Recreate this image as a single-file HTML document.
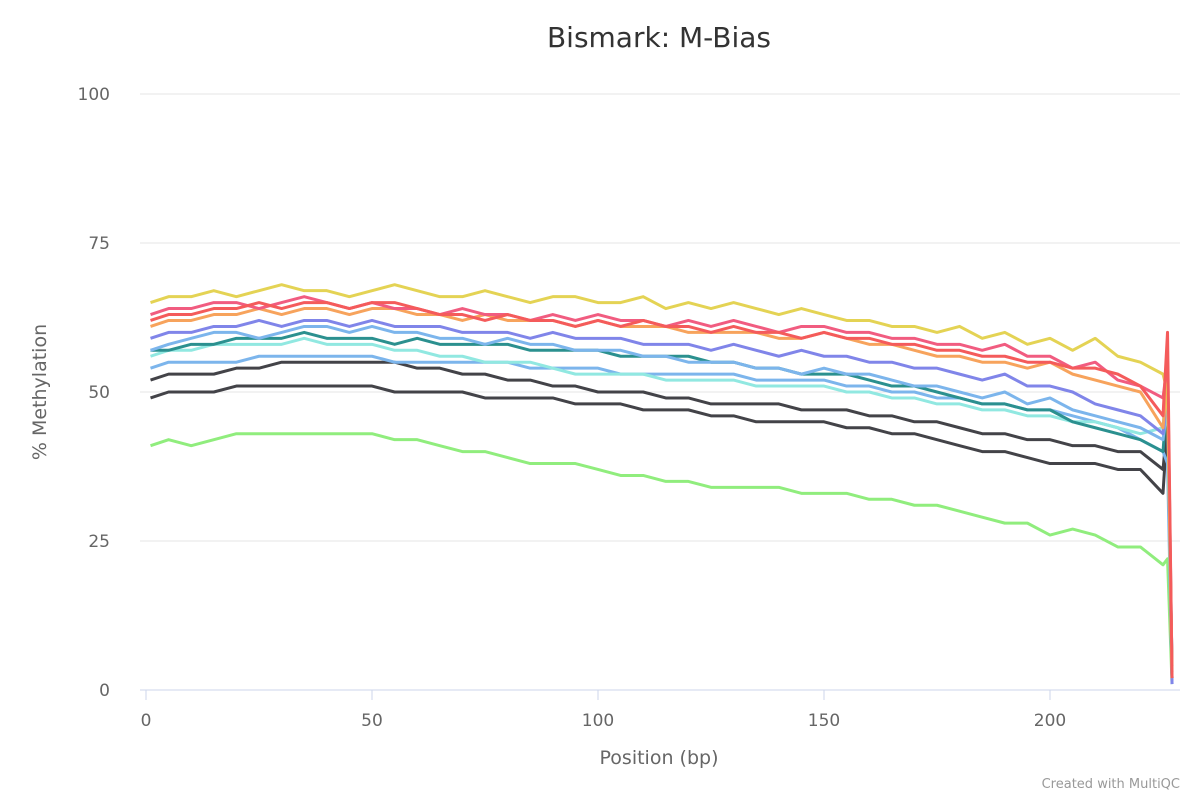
<!DOCTYPE html>
<html><head><meta charset="utf-8"><style>
body{margin:0;background:#fff;font-family:"Liberation Sans",sans-serif}
svg text{font-family:"DejaVu Sans","Liberation Sans",sans-serif}
</style></head><body>
<svg id="chart" width="1200" height="800">
<text x="659" y="47" text-anchor="middle" font-size="28" fill="#333">Bismark: M-Bias</text>
<g id="grid"></g>
<g id="series"></g>
<text transform="translate(46,392) rotate(-90)" text-anchor="middle" font-size="19" fill="#666">% Methylation</text>
<text x="659" y="764" text-anchor="middle" font-size="19" fill="#666">Position (bp)</text>
<text x="1180" y="788" text-anchor="end" font-size="13" fill="#999">Created with MultiQC</text>
</svg>
<script>
const positions=[1,5,10,15,20,25,30,35,40,45,50,55,60,65,70,75,80,85,90,95,100,105,110,115,120,125,130,135,140,145,150,155,160,165,170,175,180,185,190,195,200,205,210,215,220,225,226,227];
const yTicks=[0,25,50,75,100];
const xTicks=[0,50,100,150,200];
const sYellow=[65,66,66,67,66,67,68,67,67,66,67,68,67,66,66,67,66,65,66,66,65,65,66,64,65,64,65,64,63,64,63,62,62,61,61,60,61,59,60,58,59,57,59,56,55,53,50,2];
const sPink=[63,64,64,65,65,64,65,66,65,64,65,64,64,63,64,63,63,62,63,62,63,62,62,61,62,61,62,61,60,61,61,60,60,59,59,58,58,57,58,56,56,54,55,52,51,49,55,3];
const sRed=[62,63,63,64,64,65,64,65,65,64,65,65,64,63,63,62,63,62,62,61,62,61,62,61,61,60,61,60,60,59,60,59,59,58,58,57,57,56,56,55,55,54,54,53,51,46,60,2];
const sOrange=[61,62,62,63,63,64,63,64,64,63,64,64,63,63,62,63,62,62,62,61,62,61,61,61,60,60,60,60,59,59,60,59,58,58,57,56,56,55,55,54,55,53,52,51,50,44,52,2];
const sPurple=[59,60,60,61,61,62,61,62,62,61,62,61,61,61,60,60,60,59,60,59,59,59,58,58,58,57,58,57,56,57,56,56,55,55,54,54,53,52,53,51,51,50,48,47,46,43,50,1];
const sBlue=[57,58,59,60,60,59,60,61,61,60,61,60,60,59,59,58,59,58,58,57,57,57,56,56,55,55,55,54,54,53,54,53,53,52,51,51,50,49,50,48,49,47,46,45,44,42,48,1];
const sTeal=[57,57,58,58,59,59,59,60,59,59,59,58,59,58,58,58,58,57,57,57,57,56,56,56,56,55,55,54,54,53,53,53,52,51,51,50,49,48,48,47,47,45,44,43,42,40,50,2];
const sCyan=[56,57,57,58,58,58,58,59,58,58,58,57,57,56,56,55,55,55,54,53,53,53,53,52,52,52,52,51,51,51,51,50,50,49,49,48,48,47,47,46,46,45,45,44,43,44,55,3];
const sLightBlue=[54,55,55,55,55,56,56,56,56,56,56,55,55,55,55,55,55,54,54,54,54,53,53,53,53,53,53,52,52,52,52,51,51,50,50,49,49,48,48,47,47,46,45,44,42,40,38,2];
const sBlack1=[52,53,53,53,54,54,55,55,55,55,55,55,54,54,53,53,52,52,51,51,50,50,50,49,49,48,48,48,48,47,47,47,46,46,45,45,44,43,43,42,42,41,41,40,40,37,45,4];
const sBlack2=[49,50,50,50,51,51,51,51,51,51,51,50,50,50,50,49,49,49,49,48,48,48,47,47,47,46,46,45,45,45,45,44,44,43,43,42,41,40,40,39,38,38,38,37,37,33,45,2];
const sGreen=[41,42,41,42,43,43,43,43,43,43,43,42,42,41,40,40,39,38,38,38,37,36,36,35,35,34,34,34,34,33,33,33,32,32,31,31,30,29,28,28,26,27,26,24,24,21,22,1];
const seriesList=[
 ["green",sGreen,"#90ed7d"],["black2",sBlack2,"#434348"],["black1",sBlack1,"#434348"],
 ["light-blue",sLightBlue,"#7cb5ec"],["cyan",sCyan,"#91e8e1"],["teal",sTeal,"#2b908f"],
 ["blue",sBlue,"#7cb5ec"],["purple",sPurple,"#8085e9"],["orange",sOrange,"#f7a35c"],
 ["pink",sPink,"#f15c80"],["yellow",sYellow,"#e4d354"],["red",sRed,"#f45b5b"]];
const NS="http://www.w3.org/2000/svg";
const xS=v=>146+v*4.52;
const yS=v=>690-v*5.96;
const grid=document.getElementById('grid');
yTicks.forEach(t=>{
 const l=document.createElementNS(NS,'line');
 l.setAttribute('x1',140);l.setAttribute('x2',1180);l.setAttribute('y1',yS(t));l.setAttribute('y2',yS(t));
 l.setAttribute('stroke',t===0?'#ccd6eb':'#e6e6e6');l.setAttribute('stroke-width',1);
 
 
 grid.appendChild(l);
 const tx=document.createElementNS(NS,'text');
 tx.setAttribute('x',110);tx.setAttribute('y',yS(t)+6);tx.setAttribute('text-anchor','end');
 tx.setAttribute('font-size',17);tx.setAttribute('fill','#666');tx.textContent=t;
 
 
 grid.appendChild(tx);
});
xTicks.forEach(t=>{
 const l=document.createElementNS(NS,'line');
 l.setAttribute('x1',xS(t));l.setAttribute('x2',xS(t));l.setAttribute('y1',690);l.setAttribute('y2',700);
 l.setAttribute('stroke','#ccd6eb');
 
 
 grid.appendChild(l);
 const tx=document.createElementNS(NS,'text');
 tx.setAttribute('x',xS(t));tx.setAttribute('y',726);tx.setAttribute('text-anchor','middle');
 tx.setAttribute('font-size',17);tx.setAttribute('fill','#666');tx.textContent=t;
 
 
 grid.appendChild(tx);
});
const sg=document.getElementById('series');
seriesList.forEach(([name,vals,col])=>{
 const p=document.createElementNS(NS,'polyline');
 p.setAttribute('points',vals.map((v,i)=>xS(positions[i])+','+yS(v)).join(' '));
 p.setAttribute('fill','none');p.setAttribute('stroke',col);p.setAttribute('stroke-width',3);
 p.setAttribute('stroke-linejoin','round');
 
 
 sg.appendChild(p);
});
</script>
</body></html>
